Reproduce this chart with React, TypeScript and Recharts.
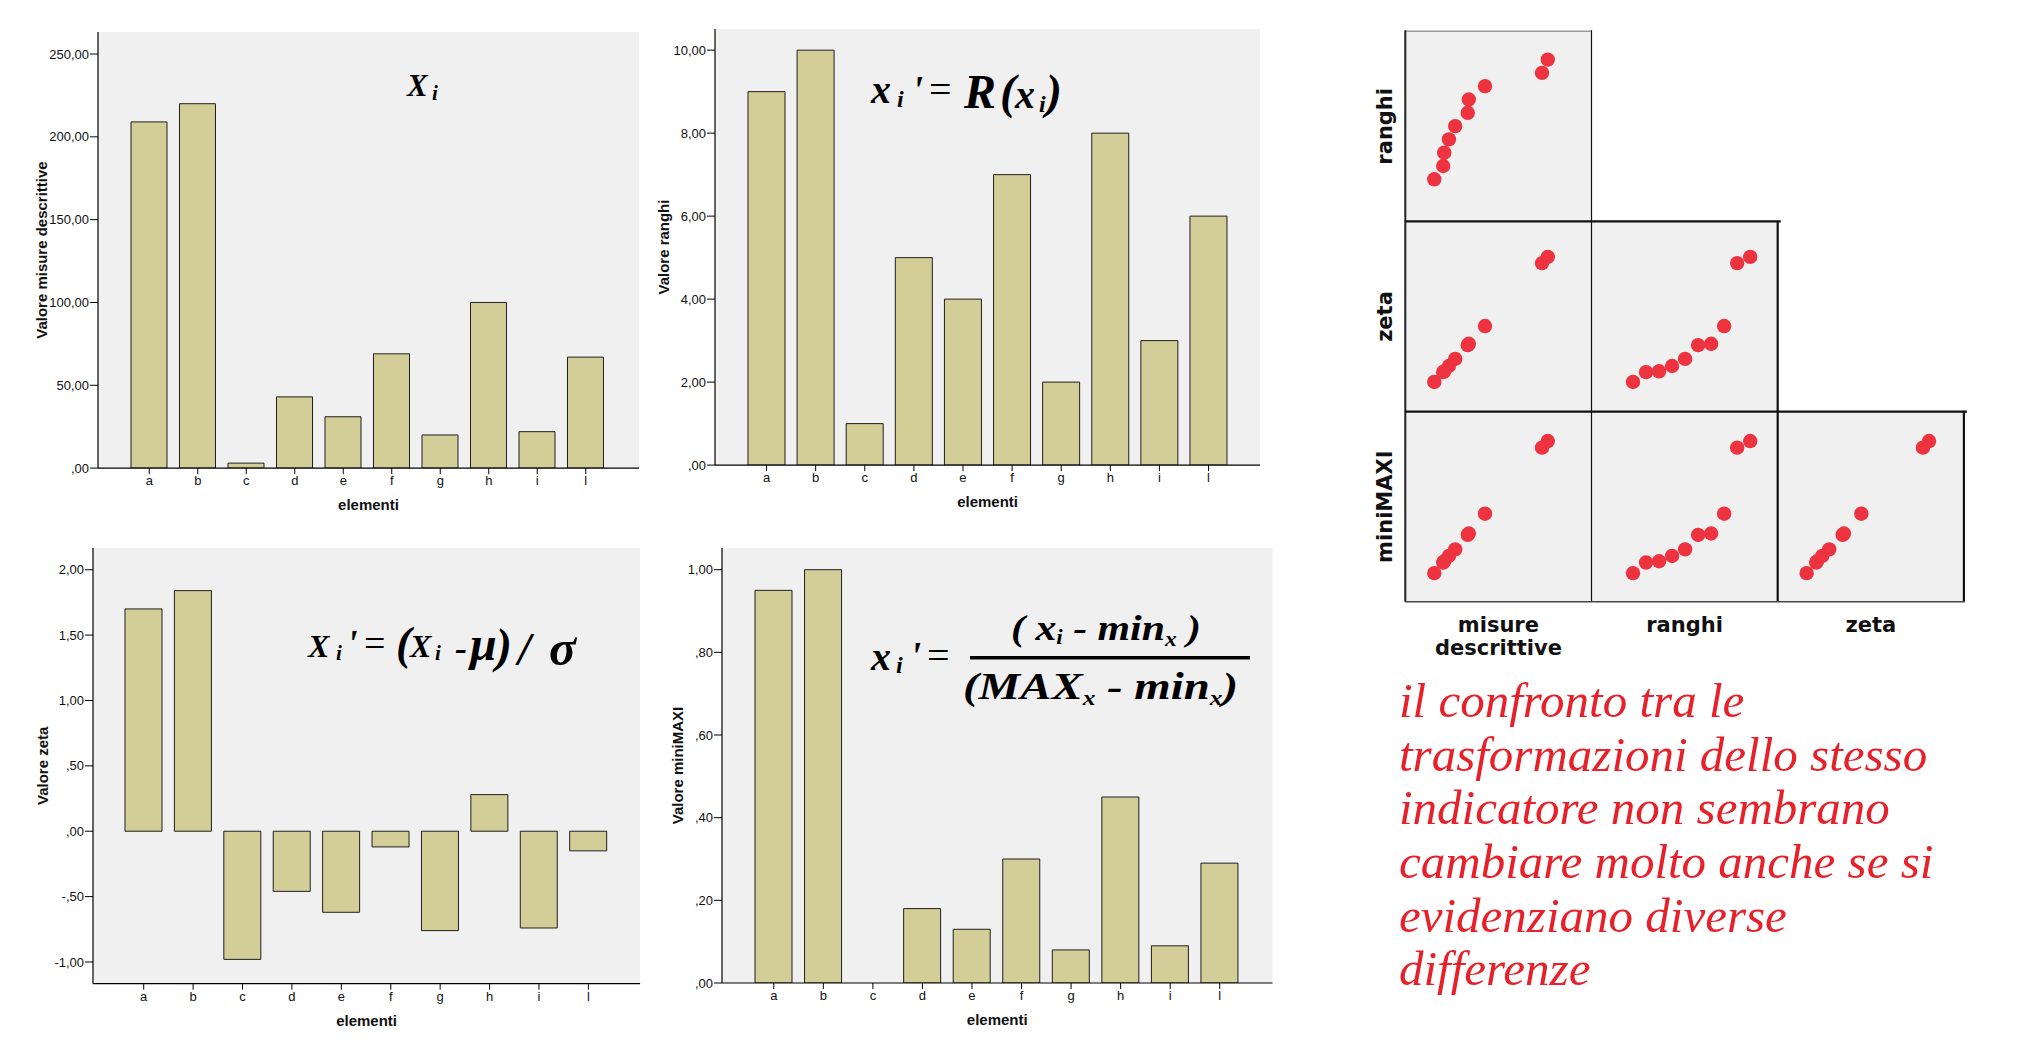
import React from 'react';
import {
  BarChart,
  Bar,
  XAxis,
  YAxis,
  CartesianGrid,
  Label,
  ScatterChart,
  Scatter,
} from 'recharts';

// ─── Data ─────────────────────────────────────────────────────────────────────

const CATEGORIES = ['a', 'b', 'c', 'd', 'e', 'f', 'g', 'h', 'i', 'l'];

const MISURE = [209, 220, 3, 43, 31, 69, 20, 100, 22, 67];
const RANGHI = [9, 10, 1, 5, 4, 7, 2, 8, 3, 6];
const ZETA = [1.7, 1.84, -0.98, -0.46, -0.62, -0.12, -0.76, 0.28, -0.74, -0.15];
const MINIMAXI = [0.95, 1.0, 0, 0.18, 0.13, 0.3, 0.08, 0.45, 0.09, 0.29];

const TICKS_MISURE = [0, 50, 100, 150, 200, 250];
const TICKS_RANGHI = [0, 2, 4, 6, 8, 10];
const TICKS_ZETA = [-1, -0.5, 0, 0.5, 1, 1.5, 2];
const TICKS_MINIMAXI = [0, 0.2, 0.4, 0.6, 0.8, 1];

const MATRIX_ROWS = ['ranghi', 'zeta', 'miniMAXI'];
const MATRIX_COLS = ['misure', 'ranghi', 'zeta'];
const MATRIX_COL_LABELS = [['misure', 'descrittive'], ['ranghi'], ['zeta']];

const NOTE_LINES = [
  'il confronto tra le',
  'trasformazioni dello stesso',
  'indicatore non sembrano',
  'cambiare molto anche se si',
  'evidenziano diverse',
  'differenze',
];

// ─── Style ────────────────────────────────────────────────────────────────────

const NARROW = "'Liberation Sans Narrow', 'Arial Narrow', 'Liberation Sans', Arial, sans-serif";
const SANS = "'Liberation Sans', Arial, sans-serif";
const SERIF = "'Liberation Serif', 'Times New Roman', 'DejaVu Serif', serif";
const MATRIX_FONT = "'DejaVu Sans', Verdana, sans-serif";

const BAR_FILL = '#d3ce97';
const PLOT_BG = '#f0f0f0';
const DOT_RED = '#ee3340';

// Italian number format, no leading zero: ",50", "-1,00"
function fmtIt(v: number): string {
  const s = Math.abs(v).toFixed(2).replace('.', ',');
  const t = s.startsWith('0,') ? s.slice(1) : s;
  return (v < 0 ? '-' : '') + t;
}

// ─── Bar panels ───────────────────────────────────────────────────────────────

interface Panel {
  values: number[];
  ticks: number[];
  domain: [number, number];
  box: { x: number; y: number; w: number; h: number };
  pad: { left: number; right: number };
  barSize: number;
  yTitle: string;
  yTitleOff: number;
}

const PANELS: Panel[] = [
  {
    values: MISURE,
    ticks: TICKS_MISURE,
    domain: [0, 263.3],
    box: { x: 98, y: 32.1, w: 541, h: 436.1 },
    pad: { left: 27, right: 29 },
    barSize: 36,
    yTitle: 'Valore misure descrittive',
    yTitleOff: 57,
  },
  {
    values: RANGHI,
    ticks: TICKS_RANGHI,
    domain: [0, 10.51],
    box: { x: 715.2, y: 29.4, w: 545.1, h: 436.1 },
    pad: { left: 27, right: 27 },
    barSize: 37,
    yTitle: 'Valore ranghi',
    yTitleOff: 51.5,
  },
  {
    values: ZETA,
    ticks: TICKS_ZETA,
    domain: [-1.166, 2.166],
    box: { x: 92.6, y: 548.3, w: 547.1, h: 435.7 },
    pad: { left: 26, right: 27 },
    barSize: 37,
    yTitle: 'Valore zeta',
    yTitleOff: 50.6,
  },
  {
    values: MINIMAXI,
    ticks: TICKS_MINIMAXI,
    domain: [0, 1.0525],
    box: { x: 721.5, y: 548.3, w: 550.5, h: 435 },
    pad: { left: 27, right: 28 },
    barSize: 37,
    yTitle: 'Valore miniMAXI',
    yTitleOff: 45,
  },
];

const LEFT_SPACE = 70;
const TOP_SPACE = 5;
const RIGHT_SPACE = 5;
const BOTTOM_SPACE = 50;

function BarPanel({ panel }: { panel: Panel }) {
  const { box } = panel;
  const rows = CATEGORIES.map((cat, i) => ({ cat, v: panel.values[i] }));

  return (
    <div style={{ position: 'absolute', left: box.x - LEFT_SPACE, top: box.y - TOP_SPACE }}>
      <BarChart
        width={LEFT_SPACE + box.w + RIGHT_SPACE}
        height={TOP_SPACE + box.h + BOTTOM_SPACE}
        data={rows}
        margin={{ top: TOP_SPACE, right: RIGHT_SPACE, bottom: 0, left: 0 }}
      >
        <CartesianGrid fill={PLOT_BG} horizontal={false} vertical={false} />
        <XAxis
          dataKey="cat"
          height={BOTTOM_SPACE}
          padding={panel.pad}
          tickSize={6}
          tickMargin={2}
          axisLine={{ stroke: '#000', strokeWidth: 1.2 }}
          tickLine={{ stroke: '#000' }}
          tick={{ fontSize: 13, fill: '#111', fontFamily: NARROW }}
          interval={0}
        >
          <Label
            content={(p: any) => {
              const vb = p.viewBox || {};
              return (
                <text
                  x={vb.x + vb.width / 2}
                  y={vb.y + 42}
                  textAnchor="middle"
                  fontFamily={SANS}
                  fontWeight="bold"
                  fontSize={15}
                  fill="#111"
                >
                  elementi
                </text>
              );
            }}
          />
        </XAxis>
        <YAxis
          width={LEFT_SPACE}
          domain={panel.domain}
          ticks={panel.ticks}
          allowDataOverflow
          tickFormatter={fmtIt}
          tickSize={8}
          tickMargin={1}
          axisLine={{ stroke: '#000', strokeWidth: 1.2 }}
          tickLine={{ stroke: '#000' }}
          tick={{ fontSize: 13, fill: '#111', fontFamily: NARROW }}
        >
          <Label
            content={(p: any) => {
              const vb = p.viewBox || {};
              const cx = vb.x + vb.width - panel.yTitleOff;
              const cy = vb.y + vb.height / 2;
              return (
                <text
                  x={cx}
                  y={cy}
                  transform={`rotate(-90 ${cx} ${cy})`}
                  textAnchor="middle"
                  dominantBaseline="central"
                  fontFamily={SANS}
                  fontWeight="bold"
                  fontSize={15}
                  fill="#111"
                >
                  {panel.yTitle}
                </text>
              );
            }}
          />
        </YAxis>
        {/* frame: top and right edges of the plot box */}
        <XAxis
          xAxisId="top"
          orientation="top"
          dataKey="cat"
          height={0}
          tick={false}
          tickLine={false}
          axisLine={{ stroke: '#7a7a7a', strokeWidth: 1.5 }}
        />
        <YAxis
          yAxisId="right"
          orientation="right"
          width={0}
          domain={panel.domain}
          tick={false}
          tickLine={false}
          axisLine={{ stroke: '#6a6a6a', strokeWidth: 1.5 }}
        />
        <Bar
          dataKey="v"
          fill={BAR_FILL}
          stroke="#1e1e1e"
          strokeWidth={1}
          barSize={panel.barSize}
          isAnimationActive={false}
        />
      </BarChart>
    </div>
  );
}

// ─── Scatter matrix ───────────────────────────────────────────────────────────

const MATRIX_VARS: Record<string, { values: number[]; domain: [number, number] }> = {
  misure: { values: MISURE, domain: [-53, 303] },
  ranghi: { values: RANGHI, domain: [-2.15, 12.15] },
  zeta: { values: ZETA, domain: [-1.64, 2.65] },
  miniMAXI: { values: MINIMAXI, domain: [-0.22, 1.22] },
};

const M = { left: 1405.3, top: 31.2, cellW: 186.2, cellH: 190.2 };
const mx = (c: number) => M.left + c * M.cellW;
const my = (r: number) => M.top + r * M.cellH;

const RedDot = (p: any) => <circle cx={p.cx} cy={p.cy} r={7.2} fill={DOT_RED} />;

function MatrixCell({ row, col }: { row: number; col: number }) {
  const xv = MATRIX_VARS[MATRIX_COLS[col]];
  const yv = MATRIX_VARS[MATRIX_ROWS[row]];
  const pts = xv.values.map((x, i) => ({ x, y: yv.values[i] }));
  return (
    <div style={{ position: 'absolute', left: mx(col), top: my(row) }}>
      <ScatterChart width={M.cellW} height={M.cellH} margin={{ top: 0, right: 0, bottom: 0, left: 0 }}>
        <CartesianGrid fill={PLOT_BG} horizontal={false} vertical={false} />
        <XAxis type="number" dataKey="x" domain={xv.domain} hide allowDataOverflow />
        <YAxis type="number" dataKey="y" domain={yv.domain} hide allowDataOverflow />
        <Scatter data={pts} shape={RedDot} isAnimationActive={false} />
      </ScatterChart>
    </div>
  );
}

// ─── Annotations (formulas, matrix frame, labels) ─────────────────────────────

const fx = {
  fontFamily: SERIF,
  fontWeight: 'bold' as const,
  fontStyle: 'italic' as const,
  fill: '#000',
};
const eq = { fontFamily: SERIF, fill: '#000' };

function Overlay() {
  const lines: Array<[number, number, number, number, string, number]> = [
    [mx(0), my(0), mx(1), my(0), '#9a9a9a', 1.5],
    [mx(0), my(0) - 1, mx(0), my(3), '#222', 2],
    [mx(1), my(0) - 1, mx(1), my(3), '#111', 1.2],
    [mx(2), my(1), mx(2), my(3), '#111', 2.2],
    [mx(3), my(2), mx(3), my(3), '#111', 2.2],
    [mx(0), my(1), mx(2) + 3, my(1), '#111', 2.2],
    [mx(0), my(2), mx(3) + 3, my(2), '#111', 2.2],
    [mx(0), my(3), mx(3) + 1, my(3), '#444', 1.5],
  ];

  return (
    <svg
      width={2023}
      height={1043}
      style={{ position: 'absolute', left: 0, top: 0, pointerEvents: 'none' }}
    >
      {/* X_i */}
      <text x={407} y={96} fontSize={31} {...fx}>X</text>
      <text x={432} y={99.5} fontSize={21} {...fx}>i</text>

      {/* x_i' = R(x_i) */}
      <text x={871} y={103} fontSize={40} {...fx}>x</text>
      <text x={897} y={106.5} fontSize={24} {...fx}>i</text>
      <text x={912} y={103} fontSize={40} {...fx}>'</text>
      <text x={929} y={103} fontSize={40} {...eq}>=</text>
      <text x={964} y={108} fontSize={48} {...fx}>R</text>
      <text x={1000} y={108} fontSize={48} {...fx}>(</text>
      <text x={1015} y={108} fontSize={40} {...fx}>x</text>
      <text x={1039} y={111.5} fontSize={24} {...fx}>i</text>
      <text x={1046} y={108} fontSize={48} {...fx}>)</text>

      {/* X_i' = (X_i - mu) / sigma */}
      <text x={308} y={656.7} fontSize={32} {...fx}>X</text>
      <text x={336} y={660} fontSize={21} {...fx}>i</text>
      <text x={347} y={656} fontSize={38} {...fx}>'</text>
      <text x={364} y={656} fontSize={38} {...eq}>=</text>
      <text x={396} y={659} fontSize={46} {...fx}>(</text>
      <text x={410} y={656.7} fontSize={32} {...fx}>X</text>
      <text x={435} y={660} fontSize={21} {...fx}>i</text>
      <text x={455} y={660} fontSize={36} {...fx}>-</text>
      <text x={470} y={660} fontSize={48} {...fx}>μ</text>
      <text x={496} y={662} fontSize={48} {...fx}>)</text>
      <text x={518} y={665} fontSize={46} {...fx}>/</text>
      <text x={549} y={665} fontSize={50} {...fx}>σ</text>

      {/* x_i' = (x_i - min_x) / (MAX_x - min_x) */}
      <text x={871} y={670} fontSize={40} {...fx}>x</text>
      <text x={896} y={673} fontSize={24} {...fx}>i</text>
      <text x={910} y={669} fontSize={40} {...fx}>'</text>
      <text x={927} y={669} fontSize={40} {...eq}>=</text>
      <text x={1011} y={640} fontSize={36} textLength={190} lengthAdjust="spacingAndGlyphs" {...fx}>
        <tspan>( x</tspan>
        <tspan fontSize={20} dy={4}>i</tspan>
        <tspan fontSize={36} dy={-4}> - min</tspan>
        <tspan fontSize={20} dy={6}>x</tspan>
        <tspan fontSize={36} dy={-6}> )</tspan>
      </text>
      <rect x={970} y={656} width={280} height={3.5} fill="#000" />
      <text x={963} y={699} fontSize={37} textLength={275} lengthAdjust="spacingAndGlyphs" {...fx}>
        <tspan>(MAX</tspan>
        <tspan fontSize={20} dy={6}>x</tspan>
        <tspan fontSize={37} dy={-6}> - min</tspan>
        <tspan fontSize={20} dy={6}>x</tspan>
        <tspan fontSize={37} dy={-6}>)</tspan>
      </text>

      {/* scatter matrix frame */}
      {lines.map(([x1, y1, x2, y2, c, w], i) => (
        <line key={i} x1={x1} y1={y1} x2={x2} y2={y2} stroke={c} strokeWidth={w} />
      ))}

      {MATRIX_ROWS.map((name, r) => {
        const cx = 1385.4;
        const cy = my(r) + M.cellH / 2;
        return (
          <text
            key={name}
            x={cx}
            y={cy}
            transform={`rotate(-90 ${cx} ${cy})`}
            textAnchor="middle"
            dominantBaseline="central"
            fontFamily={MATRIX_FONT}
            fontWeight="bold"
            fontSize={21}
            fill="#111"
          >
            {name}
          </text>
        );
      })}

      {MATRIX_COL_LABELS.map((parts, c) => (
        <text
          key={c}
          x={mx(c) + M.cellW / 2}
          y={631.5}
          textAnchor="middle"
          fontFamily={MATRIX_FONT}
          fontWeight="bold"
          fontSize={21}
          fill="#111"
        >
          {parts.map((p, k) => (
            <tspan key={k} x={mx(c) + M.cellW / 2} dy={k === 0 ? 0 : 23}>
              {p}
            </tspan>
          ))}
        </text>
      ))}
    </svg>
  );
}

// ─── App ──────────────────────────────────────────────────────────────────────

export default function App() {
  const cells: Array<[number, number]> = [];
  MATRIX_ROWS.forEach((_, r) => {
    for (let c = 0; c <= r; c++) cells.push([r, c]);
  });

  return (
    <div
      style={{
        position: 'absolute',
        left: 0,
        top: 0,
        width: 2023,
        height: 1043,
        background: '#fff',
        overflow: 'hidden',
      }}
    >
      {PANELS.map((p, i) => (
        <BarPanel key={i} panel={p} />
      ))}

      {cells.map(([r, c]) => (
        <MatrixCell key={`${r}-${c}`} row={r} col={c} />
      ))}

      <div
        style={{
          position: 'absolute',
          left: 1399,
          top: 673.9,
          fontFamily: SERIF,
          fontStyle: 'italic',
          fontSize: 49,
          lineHeight: '53.7px',
          color: '#e8202a',
          whiteSpace: 'nowrap',
        }}
      >
        {NOTE_LINES.map((l, i) => (
          <div key={i}>{l}</div>
        ))}
      </div>

      <Overlay />
    </div>
  );
}
